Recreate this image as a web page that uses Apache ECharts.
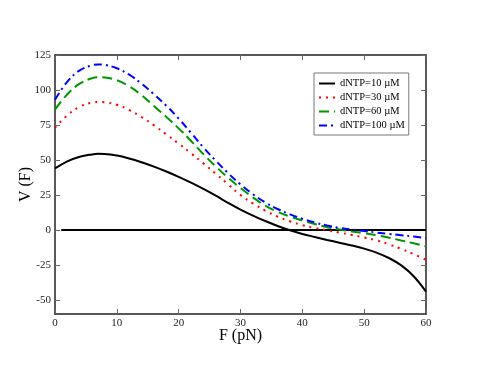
<!DOCTYPE html>
<html><head><meta charset="utf-8">
<script src="https://cdn.jsdelivr.net/npm/echarts@6/dist/echarts.min.js"></script>
<style>html,body{margin:0;padding:0;background:#fff}#c{width:479px;height:370px}</style>
</head><body><div id="c"></div>
<script>
const F = [0,2,4,6,7,8,10,12,14,16,18,20,22,24,26,28,30,32,34,36,38,40,42,44,46,48,50,52,54,56,58,60];
const v10  = [44,49,52.3,54,54.4,54.3,53.2,51.1,48.4,45.3,41.8,38,33.8,29.3,24.5,19.4,14.6,10.3,6.4,2.9,-0.2,-2.8,-5,-7.1,-9.1,-11.1,-13.3,-16.2,-20,-25.3,-33,-44];
const v30  = [73,82,88,91,91.4,91.2,89.5,85.7,80.7,74.8,68.3,61.7,54.8,47.6,40.2,32.6,25,19,13.8,9.6,6.2,3.5,1.5,-0.2,-1.8,-3.5,-5.3,-7.4,-10.2,-13.5,-17.2,-21.3];
const v60  = [86,97,104.5,108.5,109.2,109,107,102.6,96.3,88.6,80.8,72.6,63.6,54.2,45.4,37.3,30,23.3,17.4,12.9,9.6,6.8,4.3,2,0.4,-1,-2.3,-3.7,-5.5,-7.5,-9.5,-11.7];
const v100 = [93,106,114,117.7,118.3,118,115.5,111,104.5,97,88.8,79.6,69.4,59,49.5,40.6,32.5,25.6,19.7,15,11.2,8,5.4,3.2,1.5,0.3,-0.7,-1.8,-2.8,-3.7,-4.7,-5.7];
const zeroF = [1,60];
const zeroV = [0,0];
const names = ['dNTP=10 µM','dNTP=30 µM','dNTP=60 µM','dNTP=100 µM'];
const yTicks = [-50,-25,0,25,50,75,100,125];

const pair = (xs, ys) => xs.map((x,i)=>[x,ys[i]]);
const font = 'Liberation Serif';
const styles = [
  {color:'#000000', type:'solid'},
  {color:'#ff0000', type:[2,5]},
  {color:'#009600', type:[10,5]},
  {color:'#0000ff', type:[8,4,2,4]}
];
const vals = [v10,v30,v60,v100];
const series = vals.map((v,i)=>({
  name:names[i], type:'line', data:pair(F,v), smooth:0.4, showSymbol:false, symbol:'none',
  lineStyle:{width:2, color:styles[i].color, type:styles[i].type},
  itemStyle:{color:styles[i].color}, animation:false, z:3
}));
series.push({type:'line', data:pair(zeroF,zeroV), showSymbol:false, symbol:'none',
  lineStyle:{width:2,color:'#000'}, animation:false, silent:true, z:2});

const line = {show:true,onZero:false,lineStyle:{color:'#222',width:1.5}};
const tick = {show:true,inside:true,length:5,lineStyle:{color:'#666',width:1}};
const chart = echarts.init(document.getElementById('c'), null, {renderer:'canvas'});
chart.setOption({
  animation:false,
  backgroundColor:'#fff',
  grid:{left:55,right:53,top:55,bottom:56,containLabel:false},
  legend:{
    data:names, orient:'vertical', left:314, top:73,
    itemWidth:16, itemHeight:10, itemGap:3, padding:[5,4,4,4],
    borderColor:'#777', borderWidth:1, backgroundColor:'#fff',
    itemStyle:{opacity:0},
    textStyle:{fontFamily:font, fontSize:10.5, color:'#000'}
  },
  xAxis:[
    {type:'value', min:0, max:60, interval:10, position:'bottom',
      name:'F (pN)', nameLocation:'middle', nameGap:14, nameMoveOverlap:false,
      nameTextStyle:{fontFamily:font,fontSize:16,color:'#000'},
      axisLine:line, axisTick:tick, splitLine:{show:false},
      axisLabel:{fontFamily:font,fontSize:11,color:'#222',margin:4}},
    {type:'value', min:0, max:60, interval:10, position:'top',
      axisLine:line, axisTick:tick, splitLine:{show:false}, axisLabel:{show:false}}
  ],
  yAxis:[
    {type:'value', min:-60, max:125, position:'left',
      name:'V (F)', nameLocation:'middle', nameGap:21, nameMoveOverlap:false,
      nameTextStyle:{fontFamily:font,fontSize:16,color:'#000'},
      axisLine:line, splitLine:{show:false},
      axisTick:Object.assign({customValues:yTicks}, tick),
      axisLabel:{fontFamily:font,fontSize:11,color:'#222',margin:4,customValues:yTicks}},
    {type:'value', min:-60, max:125, position:'right',
      axisLine:line, splitLine:{show:false},
      axisTick:Object.assign({customValues:yTicks}, tick),
      axisLabel:{show:false,customValues:yTicks}}
  ],
  series:series
});
</script></body></html>
